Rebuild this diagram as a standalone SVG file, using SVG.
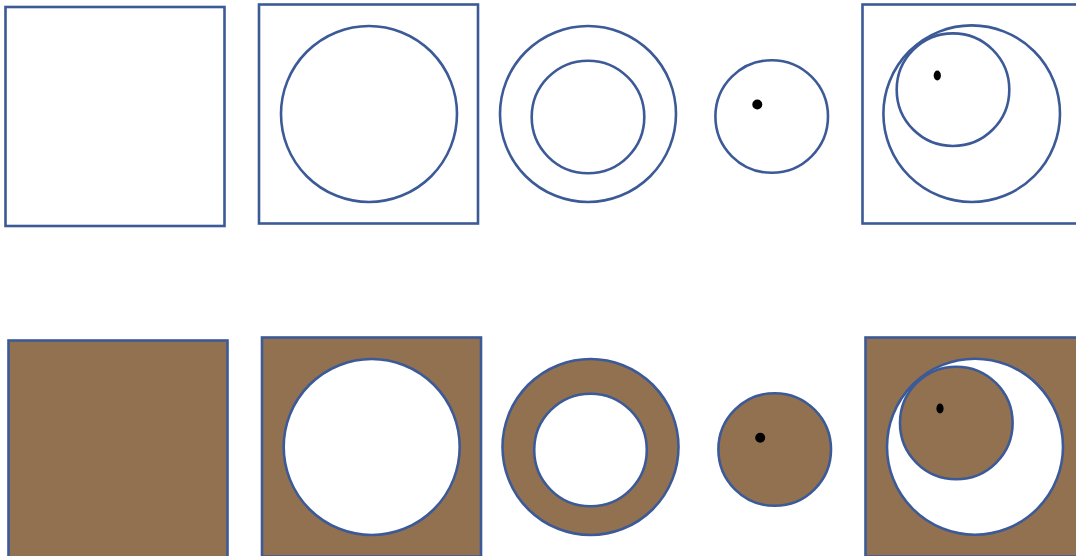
<svg xmlns="http://www.w3.org/2000/svg" width="1076" height="556" viewBox="0 0 1076 556">
<style>
.o{stroke:#3C5A97;stroke-width:2.6}
.w{fill:#FFFFFF}
.b{fill:#927150}
.d{fill:#000000}
</style>
<rect width="1076" height="556" fill="#FFFFFF"/>
<g id="top-row">
<g id="t1"><rect class="o w" x="5.5" y="7" width="219" height="219"/></g>
<g id="t2"><rect class="o w" x="259" y="4.5" width="219" height="219"/><circle class="o w" cx="369" cy="114" r="88"/></g>
<g id="t3"><circle class="o w" cx="588" cy="114" r="88"/><circle class="o w" cx="588" cy="117" r="56.3"/></g>
<g id="t4"><circle class="o w" cx="771.7" cy="116.5" r="56.3"/><ellipse class="d" cx="757.3" cy="104.5" rx="5" ry="5"/></g>
<g id="t5"><rect class="o w" x="862.5" y="4.5" width="219" height="219"/><circle class="o w" cx="971.7" cy="113.7" r="88.3"/><circle class="o w" cx="953" cy="89.7" r="56.3"/><ellipse class="d" cx="937.3" cy="75.5" rx="3.6" ry="5"/></g>
</g>
<g id="bottom-row">
<g id="b1"><rect class="o b" x="8.5" y="340.5" width="219" height="219"/></g>
<g id="b2"><rect class="o b" x="262" y="337.5" width="219" height="219"/><circle class="o w" cx="371.7" cy="447" r="88"/></g>
<g id="b3"><circle class="o b" cx="590.5" cy="447" r="88"/><circle class="o w" cx="590.5" cy="450" r="56.3"/></g>
<g id="b4"><circle class="o b" cx="774.7" cy="449.5" r="56.3"/><ellipse class="d" cx="760.2" cy="437.8" rx="5" ry="5"/></g>
<g id="b5"><rect class="o b" x="865.5" y="337.5" width="219" height="219"/><circle class="o w" cx="975" cy="446.7" r="88"/><circle class="o b" cx="956.3" cy="423" r="56.3"/><ellipse class="d" cx="940" cy="408.5" rx="3.6" ry="5"/></g>
</g>
</svg>
